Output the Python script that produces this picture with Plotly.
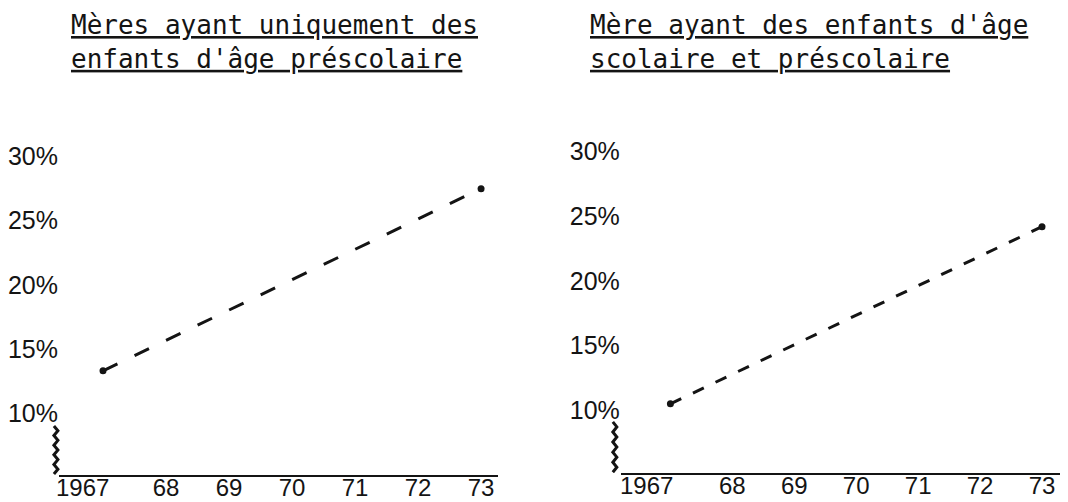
import plotly.graph_objects as go

# ---- data ----
years = [1967, 1973]
prescolaire_seul = [13.3, 27.5]          # Mères ayant uniquement des enfants d'âge préscolaire
scolaire_et_prescolaire = [10.5, 24.2]   # Mère ayant des enfants d'âge scolaire et préscolaire

y_tickvals = [10, 15, 20, 25, 30]
y_ticktext = ["10%", "15%", "20%", "25%", "30%"]
x_tickvals = [1968, 1969, 1970, 1971, 1972, 1973]
x_ticktext = ["68", "69", "70", "71", "72", "73"]
first_year_label = "1967"

title_left = "<u>Mères ayant uniquement des</u><br><u>enfants d'âge préscolaire</u>"
title_right = "<u>Mère ayant des enfants d'âge</u><br><u>scolaire et préscolaire</u>"

W, H = 1068, 502
OFF = 8  # page body margin
INK = "#141414"
TICKFONT = dict(family="Liberation Sans", size=25, color=INK)
XTICKFONT = dict(family="Liberation Sans", size=24, color=INK)
TITLEFONT = dict(family="DejaVu Sans Mono", size=26, color=INK)


def px_x(p):
    return (p - OFF) / W


def px_y(p):
    return (H - (p - OFF)) / H


fig = go.Figure()

fig.add_trace(go.Scatter(
    x=years, y=prescolaire_seul, mode="lines+markers",
    line=dict(color=INK, width=3, dash="16px,19px"),
    marker=dict(color=INK, size=7),
    xaxis="x", yaxis="y", showlegend=False, hoverinfo="skip"))

fig.add_trace(go.Scatter(
    x=years, y=scolaire_et_prescolaire, mode="lines+markers",
    line=dict(color=INK, width=3, dash="12px,13px"),
    marker=dict(color=INK, size=7),
    xaxis="x2", yaxis="y2", showlegend=False, hoverinfo="skip"))

xcommon = dict(showgrid=False, zeroline=False, showline=True, linecolor=INK,
               linewidth=2, ticks="", tickvals=x_tickvals, ticktext=x_ticktext,
               tickfont=XTICKFONT, ticklabelstandoff=-10, fixedrange=True)
ycommon = dict(showgrid=False, zeroline=False, showline=False, ticks="",
               tickvals=y_tickvals, ticktext=y_ticktext, tickfont=TICKFONT,
               fixedrange=True)

fig.update_layout(
    width=W, height=H,
    margin=dict(l=0, r=0, t=0, b=0),
    paper_bgcolor="white", plot_bgcolor="white",
    xaxis=dict(xcommon, domain=[px_x(57), px_x(497)], range=[1966.3, 1973.27], anchor="y"),
    yaxis=dict(ycommon, domain=[px_y(475), px_y(143)], range=[5.17, 31], anchor="x"),
    xaxis2=dict(xcommon, domain=[px_x(620), min(1.0, px_x(1068))], range=[1966.2, 1973.42], anchor="y2"),
    yaxis2=dict(ycommon, domain=[px_y(473), px_y(138)], range=[5.14, 31], anchor="x2"),
)

# Titles
fig.add_annotation(text=title_left, xref="paper", yref="paper",
                   x=px_x(67), y=px_y(7), xanchor="left", yanchor="top",
                   align="left", showarrow=False, font=TITLEFONT)
fig.add_annotation(text=title_right, xref="paper", yref="paper",
                   x=px_x(587), y=px_y(7), xanchor="left", yanchor="top",
                   align="left", showarrow=False, font=TITLEFONT)

# First-year labels, left-aligned with axis start
for xr, yr, xs in (("x domain", "y domain", -5), ("x2 domain", "y2 domain", -3)):
    fig.add_annotation(text=first_year_label, xref=xr, yref=yr, x=0, y=0,
                       xanchor="left", yanchor="top", xshift=xs, yshift=3,
                       showarrow=False, font=XTICKFONT)


# Axis-break squiggles (decoration)
def squiggle(xref, yref, x0, y_bot, y_top, amp, n=10):
    pts = []
    for i in range(n + 1):
        yy = y_bot + (y_top - y_bot) * i / n
        xx = x0 + (amp if i % 2 else -amp)
        pts.append(f"{xx},{yy}")
    return dict(type="path", xref=xref, yref=yref,
                path="M " + " L ".join(pts),
                line=dict(color=INK, width=3))


fig.add_shape(squiggle("x domain", "y", -3 / 440, 5.25, 9.0, 2 / 440))
fig.add_shape(squiggle("x2 domain", "y2", -6 / 446, 5.2, 9.1, 2 / 446))

fig.write_html("out.html")
